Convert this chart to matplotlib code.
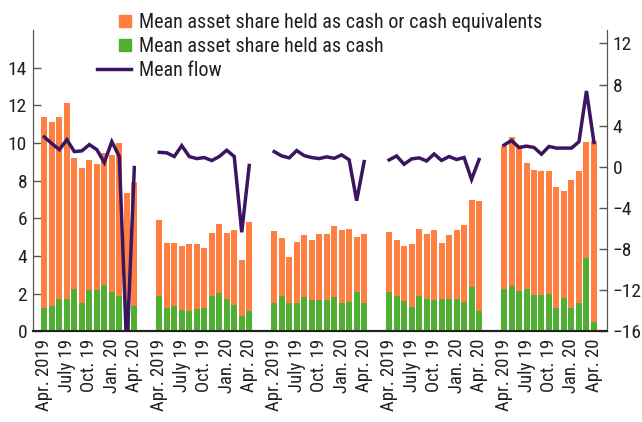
import numpy as np
import matplotlib
matplotlib.use("Agg")
import matplotlib.pyplot as plt
from matplotlib.patches import Patch, Rectangle
from matplotlib.lines import Line2D
from matplotlib.legend_handler import HandlerPatch

plt.rcParams['font.family'] = ['Roboto Condensed', 'DejaVu Sans']

month_labels = ["Apr. 2019", "", "", "July 19", "", "", "Oct. 19", "", "", "Jan. 20", "", "", "Apr. 20"]

# mean asset share held as cash or cash equivalents, per group (Apr 2019 - Apr 2020)
cash_equiv_g1 = [11.4, 11.1, 11.4, 12.1, 9.2, 8.65, 9.1, 8.9, 9.45, 9.35, 10.0, 7.35, 7.95]
cash_equiv_g2 = [5.9, 4.7, 4.7, 4.55, 4.65, 4.65, 4.45, 5.2, 5.7, 5.25, 5.4, 3.8, 5.8]
cash_equiv_g3 = [5.33, 4.96, 3.96, 4.75, 5.12, 4.86, 5.18, 5.18, 5.6, 5.39, 5.44, 5.02, 5.18]
cash_equiv_g4 = [5.28, 4.86, 4.54, 4.65, 5.44, 5.18, 5.39, 4.7, 5.12, 5.39, 5.65, 6.97, 6.92]
cash_equiv_g5 = [9.82, 10.3, 9.81, 8.93, 8.56, 8.5, 8.54, 7.66, 7.45, 8.03, 8.54, 10.04, 10.09]

# mean asset share held as cash
cash_g1 = [1.23, 1.33, 1.75, 1.75, 2.23, 1.49, 2.18, 2.18, 2.44, 2.07, 1.86, 1.6, 1.33]
cash_g2 = [1.86, 1.23, 1.33, 1.12, 1.07, 1.18, 1.23, 1.86, 2.02, 1.75, 1.39, 0.81, 1.07]
cash_g3 = [1.49, 1.86, 1.49, 1.49, 1.81, 1.65, 1.65, 1.65, 1.81, 1.49, 1.54, 2.12, 1.49]
cash_g4 = [2.07, 1.86, 1.6, 1.28, 1.86, 1.75, 1.65, 1.75, 1.74, 1.74, 1.58, 2.38, 1.11]
cash_g5 = [2.27, 2.43, 2.17, 2.27, 1.95, 1.95, 2.01, 1.27, 1.8, 1.27, 1.53, 3.91, 0.48]

# mean flow (right axis)
flow_g1 = [2.9, 2.26, 1.67, 2.64, 1.48, 1.55, 2.16, 1.67, 0.42, 2.45, 1.0, -18.0, -0.07]
flow_g2 = [1.41, 1.36, 1.0, 2.06, 1.0, 0.8, 0.9, 0.61, 1.0, 1.61, 1.0, -6.36, 0.13]
flow_g3 = [1.48, 1.06, 0.87, 1.58, 1.09, 0.9, 0.8, 0.97, 0.83, 1.16, 0.68, -3.29, 0.51]
flow_g4 = [0.67, 1.06, 0.25, 0.77, 0.87, 0.57, 1.25, 0.62, 1.0, 0.71, 0.91, -1.23, 0.71]
flow_g5 = [2.11, 2.56, 1.88, 2.01, 1.88, 1.23, 1.98, 1.82, 1.82, 1.82, 2.44, 7.37, 2.37]

cash_equiv = [cash_equiv_g1, cash_equiv_g2, cash_equiv_g3, cash_equiv_g4, cash_equiv_g5]
cash = [cash_g1, cash_g2, cash_g3, cash_g4, cash_g5]
flow = [flow_g1, flow_g2, flow_g3, flow_g4, flow_g5]

orange = '#FF7F41'
green = '#50AF33'
purple = '#3B1562'
txt = '#231F20'

fig = plt.figure(figsize=(6.42, 4.22), dpi=100)
ax = fig.add_axes([0.051, 0.2145, 0.8945, 0.7145])
ax2 = ax.twinx()

group_step = 15.33
n = len(month_labels)
all_x, all_labels = [], []
for g in range(5):
    x = g * group_step + np.arange(n)
    ax.bar(x, cash_equiv[g], width=0.8, color=orange, zorder=2)
    ax.bar(x, cash[g], width=0.8, color=green, zorder=3)
    ax2.plot(x, flow[g], color=purple, lw=2.5, solid_joinstyle='miter')
    all_x.extend(x)
    all_labels.extend(month_labels)

tick_x = [xx for xx, lab in zip(all_x, all_labels) if lab]
tick_lab = [lab for lab in all_labels if lab]
ax.set_xticks(tick_x)
ax.set_xticklabels(tick_lab, rotation=90, fontsize=13.5, color=txt)
ax.set_xlim(-1.55, 4 * group_step + 12 + 1.74)

ax.set_ylim(0, 16)
ax.set_yticks(range(0, 15, 2))
ax2.set_ylim(-16, 13.3)
ax2.set_yticks(range(-16, 13, 4))

ax.tick_params(axis='x', direction='in', length=8, width=1.4, color='#222222', pad=5)
ax.tick_params(axis='y', direction='in', length=6, width=1.0, color='#555555',
               labelsize=14, labelcolor=txt, pad=4)
ax2.tick_params(axis='y', direction='in', length=6, width=1.0, color='#555555',
                labelsize=14, labelcolor=txt, pad=4)

for a in (ax, ax2):
    a.spines['top'].set_visible(False)
    a.spines['left'].set_color('#555555')
    a.spines['right'].set_color('#555555')
    a.spines['bottom'].set_color('#222222')
    a.spines['bottom'].set_linewidth(1.5)
ax2.set_zorder(ax.get_zorder() + 1)
ax2.patch.set_visible(False)


def square_patch(legend, orig_handle, xdescent, ydescent, width, height, fontsize):
    s = height * 0.86
    return Rectangle((width - s - xdescent, -ydescent + 0.07 * height), s, s)


handles = [Patch(color=orange), Patch(color=green), Line2D([], [], color=purple, lw=2.5)]
labels = ["Mean asset share held as cash or cash equivalents",
          "Mean asset share held as cash", "Mean flow"]
fig.legend(handles, labels, loc='upper left', bbox_to_anchor=(0.1235, 1.012),
           frameon=False, fontsize=14.5, handlelength=1.65, handletextpad=0.4,
           labelspacing=0.25, labelcolor=txt,
           handler_map={Patch: HandlerPatch(patch_func=square_patch)})

fig.savefig('out.png', dpi=100)
